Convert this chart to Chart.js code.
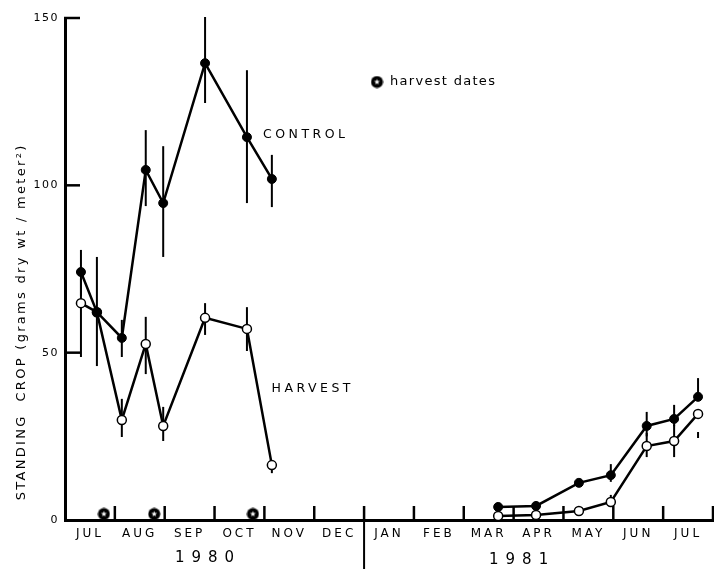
<!DOCTYPE html>
<html><head><meta charset="utf-8">
<script src="https://cdn.jsdelivr.net/npm/chart.js@4"></script>
<style>html,body{margin:0;padding:0;background:#fff;}canvas{display:block;}</style>
</head><body>
<canvas id="c" width="714" height="569"></canvas>
<script>
// ---- data ----
const monthLabels = ['JUL','AUG','SEP','OCT','NOV','DEC','JAN','FEB','MAR','APR','MAY','JUN','JUL'];
const yearLabels = ['1980','1981'];
const yTicks = [0, 50, 100, 150];
// sample dates in months since 1 Jul 1980 (gap entry separates the two seasons)
const sampleMonths  = [0.32, 0.64, 1.14, 1.62, 1.97, 2.81, 3.65, 4.15, 6.5, 8.69, 9.45, 10.31, 10.95, 11.67, 12.22, 12.70];
const controlValues = [74.1, 62.1, 54.4, 104.6, 94.7, 136.5, 114.4, 101.9, null, 3.9, 4.2, 11.1, 13.4, 28.1, 30.2, 36.8];
const harvestValues = [64.8, 62.1, 29.9, 52.6, 28.1, 60.4, 57.1, 16.4, null, 1.2, 1.5, 2.7, 5.4, 22.1, 23.6, 31.7];
const controlLow    = [67.0, 46.0, 48.7, 93.8, 78.6, 124.6, 94.7, 93.5, null, null, null, null, 11.4, 25.0, 28.0, 35.9];
const controlHigh   = [80.7, 78.6, 59.8, 116.5, 111.7, 150.3, 134.4, 109.1, null, null, null, null, 16.7, 32.3, 34.4, 42.4];
const harvestLow    = [48.7, null, 24.8, 43.6, 23.6, 55.3, 50.5, 14.0, null, null, null, null, 4.5, 18.8, 18.8, 24.5];
const harvestHigh   = [72.0, null, 36.2, 60.7, 33.8, 64.8, 63.6, 17.6, null, null, null, null, 7.5, 26.0, 28.5, 26.3];
const harvestDateMonths = [0.78, 1.79, 3.77];
const harvestDateValues = [1.8, 1.8, 1.8];

// ---- harvest date icon ----
function makeIcon(){
  const c = document.createElement('canvas'); c.width = 13; c.height = 13;
  const g = c.getContext('2d');
  g.fillStyle = '#000'; g.beginPath(); g.arc(6.5, 6.5, 6, 0, Math.PI*2); g.fill();
  g.fillStyle = '#fff'; g.beginPath();
  for (let i = 0; i < 10; i++) {
    const r = i % 2 ? 1.3 : 3.0, a = -Math.PI/2 + i*Math.PI/5;
    const px = 6.5 + r*Math.cos(a), py = 6.5 + r*Math.sin(a);
    i ? g.lineTo(px, py) : g.moveTo(px, py);
  }
  g.closePath(); g.fill();
  return c;
}
const icon = makeIcon();
const K = '#000';

const decor = {
  id: 'decor',
  beforeDraw(chart){ chart.ctx.letterSpacing = '3px'; },
  beforeDatasetsDraw(chart){
    const ctx = chart.ctx, xs = chart.scales.x, ys = chart.scales.y, a = chart.chartArea;
    ctx.save();
    ctx.letterSpacing = '0px';
    ctx.strokeStyle = K; ctx.lineCap = 'butt';
    // month boundary ticks
    ctx.lineWidth = 2.5;
    for (let i = 1; i <= monthLabels.length; i++) {
      const x = xs.getPixelForValue(i);
      ctx.beginPath(); ctx.moveTo(x, a.bottom); ctx.lineTo(x, a.bottom - 14); ctx.stroke();
    }
    // year divider
    const xd = xs.getPixelForValue(6);
    ctx.lineWidth = 2;
    ctx.beginPath(); ctx.moveTo(xd, a.bottom); ctx.lineTo(xd, chart.height); ctx.stroke();
    // y ticks inside
    ctx.lineWidth = 2.5;
    yTicks.forEach(v => {
      if (v === 0) return;
      const y = ys.getPixelForValue(v);
      ctx.beginPath(); ctx.moveTo(a.left - 1, y); ctx.lineTo(a.left + 15, y); ctx.stroke();
    });
    // error bars
    ctx.lineWidth = 2;
    const bars = (lo, hi) => sampleMonths.forEach((m, i) => {
      if (lo[i] == null || hi[i] == null) return;
      const x = xs.getPixelForValue(m);
      ctx.beginPath(); ctx.moveTo(x, ys.getPixelForValue(lo[i])); ctx.lineTo(x, ys.getPixelForValue(hi[i])); ctx.stroke();
    });
    bars(controlLow, controlHigh);
    bars(harvestLow, harvestHigh);
    ctx.restore();
  },
  afterDatasetsDraw(chart){ chart.ctx.letterSpacing = '1.5px'; },
  afterDraw(chart){
    const ctx = chart.ctx, xs = chart.scales.x;
    const T = (s, x, y, size, sp, align) => {
      ctx.font = size + 'px "DejaVu Sans"';
      ctx.letterSpacing = sp + 'px';
      ctx.textAlign = align || 'center';
      ctx.textBaseline = 'middle';
      ctx.fillText(s, x + ((align || 'center') === 'center' ? sp/2 : 0), y);
    };
    ctx.save();
    ctx.fillStyle = K;
    T('CONTROL', 304, 135, 12.5, 3.5);
    T('HARVEST', 311, 389, 12.5, 3.5);
    T(yearLabels[0], xs.getPixelForValue(2.8), 558, 15, 7);
    T(yearLabels[1], xs.getPixelForValue(9.1), 560, 15, 7);
    // legend
    ctx.drawImage(icon, 377 - 6.5, 82 - 6.5);
    T('harvest dates', 390, 82, 13, 1.3, 'left');
    // y title
    ctx.save();
    ctx.translate(22, 323);
    ctx.rotate(-Math.PI/2);
    T('STANDING  CROP (grams dry wt / meter\u00B2)', 0, 0, 13, 2.3);
    ctx.restore();
    ctx.restore();
    ctx.letterSpacing = '0px';
  }
};

new Chart(document.getElementById('c').getContext('2d'), {
  type: 'line',
  data: { datasets: [
    { label: 'CONTROL', data: sampleMonths.map((m, i) => ({x: m, y: controlValues[i]})),
      borderColor: K, borderWidth: 2.5, tension: 0, spanGaps: false,
      pointRadius: 4.5, pointBackgroundColor: K, pointBorderColor: K, pointBorderWidth: 1 },
    { label: 'HARVEST', data: sampleMonths.map((m, i) => ({x: m, y: harvestValues[i]})),
      borderColor: K, borderWidth: 2.5, tension: 0, spanGaps: false,
      pointRadius: 4.5, pointBackgroundColor: '#fff', pointBorderColor: K, pointBorderWidth: 1.5 },
    { label: 'harvest dates', data: harvestDateMonths.map((m, i) => ({x: m, y: harvestDateValues[i]})),
      showLine: false, pointStyle: icon, pointRadius: 6.5 }
  ]},
  options: {
    responsive: false, animation: false, devicePixelRatio: 1,
    layout: { autoPadding: false, padding: { top: 18, right: 1, bottom: 0, left: 0 } },
    plugins: { legend: { display: false }, tooltip: { enabled: false } },
    scales: {
      x: { type: 'linear', min: 0, max: 13,
        afterBuildTicks: s => { s.ticks = monthLabels.map((_, i) => ({value: i + 0.5})); },
        afterFit: s => { s.height = 49; s.paddingLeft = 0; s.paddingRight = 0; },
        grid: { display: false, drawTicks: false },
        border: { display: true, color: K, width: 3 },
        ticks: { autoSkip: false, maxRotation: 0, minRotation: 0, padding: 7, color: K,
          font: { family: 'DejaVu Sans', size: 12 }, callback: (v, i) => monthLabels[i] } },
      y: { min: 0, max: 150,
        afterBuildTicks: s => { s.ticks = yTicks.map(v => ({value: v})); },
        afterFit: s => { s.width = 65; s.paddingTop = 0; s.paddingBottom = 0; },
        grid: { display: false, drawTicks: false },
        border: { display: true, color: K, width: 3 },
        ticks: { padding: 6, color: K, z: 1, font: { family: 'DejaVu Sans', size: 11 } } }
    }
  },
  plugins: [decor]
});
</script>
</body></html>
